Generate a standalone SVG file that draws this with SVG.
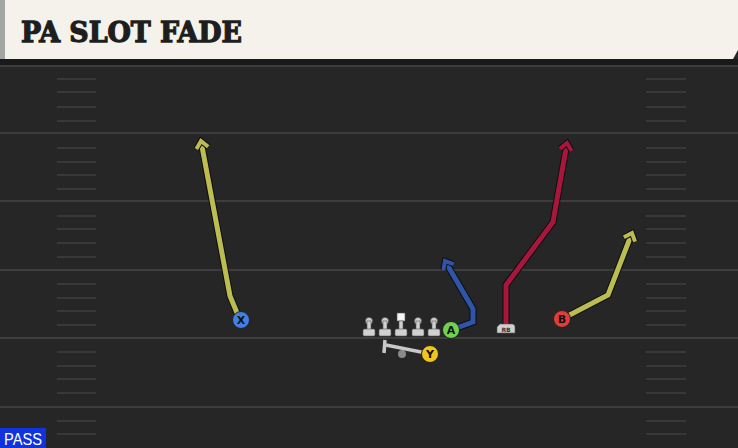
<svg xmlns="http://www.w3.org/2000/svg" width="738" height="448" viewBox="0 0 738 448">
<style>
.yl{stroke:#3d3d3d;stroke-width:2}
.hash{stroke:#383838;stroke-width:2}
.route{fill:none;stroke-width:5;stroke-linejoin:miter;stroke-linecap:butt}
.outline{fill:none;stroke:#0d0d14;stroke-width:7;stroke-linejoin:miter}
.lbl{font-family:"DejaVu Sans","Liberation Sans",sans-serif;font-weight:bold;font-size:11px;fill:#111;text-anchor:middle}
.ol{fill:#d0d0d0;stroke:#555;stroke-width:0.6}
.pc{stroke:#222;stroke-width:1}
</style>
<defs>
<marker id="ayel" viewBox="-12 -12 24 24" refX="0" refY="0" markerWidth="24" markerHeight="24" markerUnits="userSpaceOnUse" orient="auto" overflow="visible"><path d="M-7,-6 L0,0 L-7,6" fill="none" stroke="#0d0d14" stroke-width="6"/><path d="M-7,-6 L0,0 L-7,6" fill="none" stroke="#bcbc50" stroke-width="4"/></marker>
<marker id="ared" viewBox="-12 -12 24 24" refX="0" refY="0" markerWidth="24" markerHeight="24" markerUnits="userSpaceOnUse" orient="auto" overflow="visible"><path d="M-7,-6 L0,0 L-7,6" fill="none" stroke="#0d0d14" stroke-width="6"/><path d="M-7,-6 L0,0 L-7,6" fill="none" stroke="#a8163c" stroke-width="4"/></marker>
<marker id="ablu" viewBox="-12 -12 24 24" refX="0" refY="0" markerWidth="24" markerHeight="24" markerUnits="userSpaceOnUse" orient="auto" overflow="visible"><path d="M-7,-6 L0,0 L-7,6" fill="none" stroke="#0d0d14" stroke-width="6"/><path d="M-7,-6 L0,0 L-7,6" fill="none" stroke="#2f55a8" stroke-width="4"/></marker>
</defs>
<rect x="0" y="0" width="738" height="448" fill="#262626"/>
<g id="field">
<rect x="0" y="59" width="738" height="6" fill="#1a1a1a"/>
<line class="yl" x1="0" y1="66" x2="738" y2="66"/>
<line class="yl" x1="0" y1="133" x2="738" y2="133"/>
<line class="yl" x1="0" y1="201" x2="738" y2="201"/>
<line class="yl" x1="0" y1="270" x2="738" y2="270"/>
<line class="yl" x1="0" y1="338" x2="738" y2="338"/>
<line class="yl" x1="0" y1="407" x2="738" y2="407"/>
<g class="hash">
<path d="M57,79H96M57,92H96M57,107H96M57,121H96M57,148H96M57,162H96M57,175H96M57,189H96M57,216H96M57,229H96M57,243H96M57,257H96M57,284H96M57,298H96M57,311H96M57,325H96M57,352H96M57,366H96M57,379H96M57,393H96M57,421H96M57,434H96"/>
<path d="M646,79H686M646,92H686M646,107H686M646,121H686M646,148H686M646,162H686M646,175H686M646,189H686M646,216H686M646,229H686M646,243H686M646,257H686M646,284H686M646,298H686M646,311H686M646,325H686M646,352H686M646,366H686M646,379H686M646,393H686M646,421H686M646,434H686"/>
</g>
</g>
<g id="header">
<path d="M0,0 H738 V50 L733,59 H0 Z" fill="#f5f2eb"/>
<rect x="0" y="0" width="5" height="59" fill="#a3a7a3"/>
<text x="21" y="42" font-family="'DejaVu Serif','Liberation Serif',serif" font-weight="bold" font-size="28" fill="#1e1e1e" stroke="#1e1e1e" stroke-width="1.3" textLength="221" lengthAdjust="spacingAndGlyphs">PA SLOT FADE</text>
</g>
<g id="connectors">
<polyline class="outline" points="240,320 230,296 201,141"/>
<polyline class="route" stroke="#bcbc50" points="240,320 230,296 201,141" marker-end="url(#ayel)"/>
<polyline class="outline" points="506,325 506,285 553,222 567,143"/>
<polyline class="route" stroke="#a8163c" points="506,325 506,285 553,222 567,143" marker-end="url(#ared)"/>
<polyline class="outline" points="451,330 473,322 473,309 445,261"/>
<polyline class="route" stroke="#2f55a8" points="451,330 473,322 473,309 445,261" marker-end="url(#ablu)"/>
<polyline class="outline" points="562,319 608,295 632,233"/>
<polyline class="route" stroke="#bcbc50" points="562,319 608,295 632,233" marker-end="url(#ayel)"/>
</g>
<g id="line">
<g class="ol">
<circle cx="369" cy="321" r="3.5"/><rect x="367" y="321" width="4" height="9"/><rect x="363" y="329" width="12" height="7" rx="1.5"/>
<circle cx="385" cy="321" r="3.5"/><rect x="383" y="321" width="4" height="9"/><rect x="379" y="329" width="12" height="7" rx="1.5"/>
<rect x="397" y="313" width="8" height="8" fill="#f4f4f4"/><rect x="399" y="321" width="4" height="9"/><rect x="395" y="329" width="12" height="7" rx="1.5"/>
<circle cx="418" cy="321" r="3.5"/><rect x="416" y="321" width="4" height="9"/><rect x="412" y="329" width="12" height="7" rx="1.5"/>
<circle cx="434" cy="321" r="3.5"/><rect x="432" y="321" width="4" height="9"/><rect x="428" y="329" width="12" height="7" rx="1.5"/>
</g>
</g>
<g id="qb">
<circle cx="402" cy="354" r="4" fill="#8a8a8a"/>
<path d="M386,345 L426,353" stroke="#c8c8c8" stroke-width="3.5"/>
<path d="M385,340 L384,353" stroke="#c8c8c8" stroke-width="3.5"/>
</g>
<g id="X"><circle class="pc" cx="241" cy="320" r="8.5" fill="#3f80e6"/><text class="lbl" x="241" y="324">X</text></g>
<g id="A"><circle class="pc" cx="451" cy="330" r="8.5" fill="#6fd14d"/><text class="lbl" x="451" y="334">A</text></g>
<g id="Y"><circle class="pc" cx="430" cy="354" r="8.5" fill="#f2c41f"/><text class="lbl" x="430" y="358">Y</text></g>
<g id="B"><circle class="pc" cx="562" cy="319" r="8.5" fill="#e23b3b"/><text class="lbl" x="562" y="323">B</text></g>
<g id="RB"><path d="M500,324 H512 Q515,324 515,327 V333 H497 V327 Z" fill="#cfcfcf" stroke="#555" stroke-width="0.6"/><text x="506" y="331.5" font-family="'DejaVu Sans',sans-serif" font-size="6" font-weight="bold" fill="#333" text-anchor="middle">RB</text></g>
<g id="pass"><rect x="0" y="428" width="46" height="20" fill="#1133dd"/><text x="4" y="445" font-family="'Liberation Sans',sans-serif" font-size="16" fill="#ffffff" textLength="38" lengthAdjust="spacingAndGlyphs">PASS</text></g>
</svg>
